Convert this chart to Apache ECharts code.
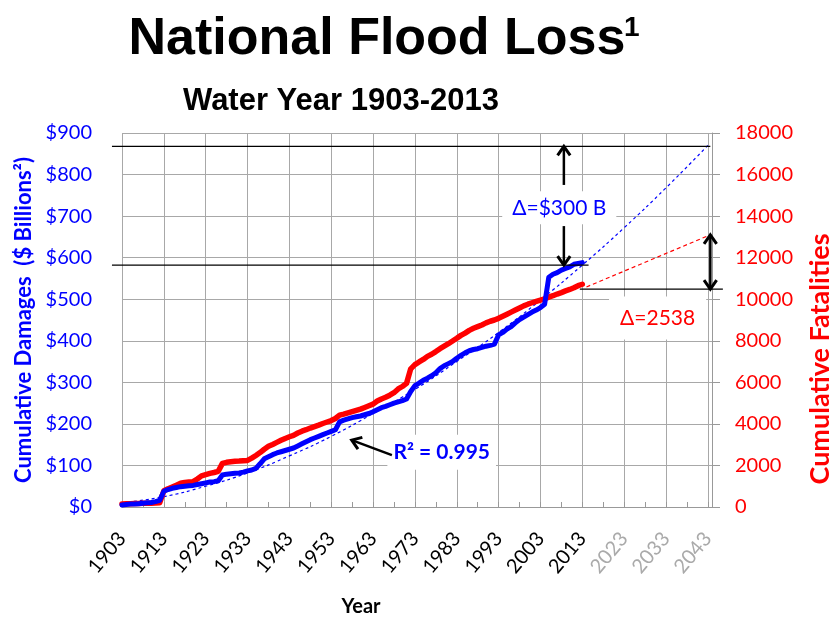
<!DOCTYPE html>
<html>
<head>
<meta charset="utf-8">
<title>National Flood Loss</title>
<script src="https://cdn.jsdelivr.net/npm/echarts@6/dist/echarts.min.js"></script>
<style>
  html, body { margin: 0; padding: 0; background: #fff; }
  #chart { width: 830px; height: 620px; }
</style>
</head>
<body>
<div id="chart"></div>
<script>
// x axis runs in "years after 1903" so the ticks can start at 0
const startYear = 1903;
const xTickLabels = ['1903', '1913', '1923', '1933', '1943', '1953', '1963', '1973',
  '1983', '1993', '2003', '2013', '2023', '2033', '2043'];

const years = [
  1903, 1904, 1905, 1906, 1907, 1908, 1909, 1910, 1911, 1912,
  1913, 1914, 1915, 1916, 1917, 1918, 1919, 1920, 1921, 1922,
  1923, 1924, 1925, 1926, 1927, 1928, 1929, 1930, 1931, 1932,
  1933, 1934, 1935, 1936, 1937, 1938, 1939, 1940, 1941, 1942,
  1943, 1944, 1945, 1946, 1947, 1948, 1949, 1950, 1951, 1952,
  1953, 1954, 1955, 1956, 1957, 1958, 1959, 1960, 1961, 1962,
  1963, 1964, 1965, 1966, 1967, 1968, 1969, 1970, 1971, 1972,
  1973, 1974, 1975, 1976, 1977, 1978, 1979, 1980, 1981, 1982,
  1983, 1984, 1985, 1986, 1987, 1988, 1989, 1990, 1991, 1992,
  1993, 1994, 1995, 1996, 1997, 1998, 1999, 2000, 2001, 2002,
  2003, 2004, 2005, 2006, 2007, 2008, 2009, 2010, 2011, 2012,
  2013
];

// cumulative damages, $ billions
const damages = [
  5, 6, 7, 7, 8, 9, 10, 11, 13, 16,
  38, 42, 45, 47, 49, 50, 51, 52, 54, 56,
  58, 60, 61, 63, 77, 79, 80, 81, 82, 84,
  87, 89, 93, 104, 116, 121, 126, 130, 133, 136,
  139, 142, 147, 152, 157, 162, 166, 170, 174, 178,
  182, 186, 205, 209, 212, 215, 217, 219, 222, 225,
  229, 234, 239, 242, 246, 250, 253, 256, 260, 278,
  292, 298, 305, 310, 316, 323, 333, 340, 345, 350,
  358, 365, 371, 376, 379, 381, 384, 387, 389, 392,
  414, 420, 428, 434, 443, 451, 457, 463, 469, 474,
  480, 488, 553, 560, 564, 570, 574, 578, 584, 586,
  588
];

// cumulative fatalities
const fatalities = [
  150, 155, 160, 165, 170, 175, 180, 185, 190, 200,
  780, 880, 960, 1050, 1140, 1180, 1200, 1220, 1350, 1500,
  1560, 1620, 1660, 1720, 2100, 2150, 2180, 2200, 2210, 2230,
  2240, 2350, 2480, 2620, 2780, 2920, 3010, 3110, 3210, 3300,
  3380, 3450, 3560, 3650, 3720, 3800, 3870, 3940, 4020, 4090,
  4160, 4260, 4420, 4470, 4530, 4590, 4650, 4710, 4790, 4870,
  4950, 5100, 5200, 5280, 5380, 5500, 5680, 5800, 5950, 6650,
  6850, 6980, 7100, 7250, 7350, 7480, 7620, 7740, 7860, 7990,
  8120, 8260, 8370, 8500, 8600, 8680, 8760, 8860, 8940, 9000,
  9080, 9180, 9280, 9380, 9480, 9580, 9680, 9760, 9830, 9900,
  9960, 10020, 10100, 10170, 10250, 10320, 10400, 10470, 10550, 10650,
  10720
];

// fitted trend of damages, projected to 2043
const trendYears = [1903, 1913, 1923, 1933, 1943, 1953, 1963, 1973, 1983, 1993, 2003, 2013, 2023, 2033, 2043];
const trendDamages = [10, 25, 50, 82, 123, 170, 225, 283, 350, 420, 498, 582, 672, 768, 870];

// fatalities projection
const projYears = [2014, 2043.6];
const projFatalities = [10590, 13100];

// annotation levels
const damageTop = 868, damageNow = 582;
const fatalTop = 13100, fatalNow = 10490;

const BLUE = '#0000ff';
const RED = '#ff0000';
const GRID = '#a8a8a8';
const FONT = 'Lato';
const TITLE_FONT = 'Liberation Sans';

const pairs = (xs, ys) => xs.map((x, i) => [x - startYear, ys[i]]);

const chart = echarts.init(document.getElementById('chart'));

const option = {
  animation: false,
  backgroundColor: '#fff',
  title: [
    {
      text: 'National Flood Loss',
      left: 372, top: 9, textAlign: 'center',
      textStyle: { fontFamily: TITLE_FONT, fontWeight: 'bold', fontSize: 52, color: '#000' }
    },
    {
      text: '1',
      left: 619, top: 9,
      textStyle: { fontFamily: TITLE_FONT, fontWeight: 'bold', fontSize: 28, color: '#000' }
    },
    {
      text: 'Water Year 1903-2013',
      left: 336, top: 81, textAlign: 'center',
      textStyle: { fontFamily: TITLE_FONT, fontWeight: 'bold', fontSize: 31, color: '#000' }
    }
  ],
  grid: { left: 122, right: 118, top: 133, bottom: 113, outerBoundsMode: 'none', containLabel: false },
  xAxis: {
    type: 'value', min: 0, max: 141, interval: 10,
    axisLine: { show: true, lineStyle: { color: '#999' } },
    axisTick: { show: true, inside: true, length: 5, lineStyle: { color: '#999' } },
    minorTick: { show: true, splitNumber: 2, length: 5, lineStyle: { color: '#999' } },
    splitLine: { show: true, lineStyle: { color: GRID, width: 1 } },
    axisLabel: {
      rotate: 50, margin: 28, fontFamily: FONT, fontSize: 20,
      showMaxLabel: false,
      formatter: v => xTickLabels[v / 10] || '',
      color: v => (+v <= 110 ? '#000' : '#aaa')
    },
    name: 'Year', nameLocation: 'middle', nameGap: 90,
    nameTextStyle: { fontFamily: FONT, fontWeight: 'bold', fontSize: 20, color: '#000', padding: [0, 112, 0, 0] }
  },
  yAxis: [
    {
      type: 'value', min: 0, max: 900, interval: 100, position: 'left',
      axisLine: { show: false }, axisTick: { show: false },
      splitLine: { show: true, lineStyle: { color: GRID, width: 1 } },
      axisLabel: { formatter: v => '$' + v, color: BLUE, fontFamily: FONT, fontSize: 20, margin: 30 },
      name: 'Cumulative Damages  ($ Billions²)', nameLocation: 'middle', nameGap: 86,
      nameTextStyle: { color: BLUE, fontFamily: FONT, fontWeight: 'bold', fontSize: 22 }
    },
    {
      type: 'value', min: 0, max: 18000, interval: 2000, position: 'right',
      axisLine: { show: true, lineStyle: { color: '#999' } },
      axisTick: { show: true, length: 8, lineStyle: { color: '#999' } },
      splitLine: { show: false },
      axisLabel: { formatter: v => String(v), color: RED, fontFamily: FONT, fontSize: 20, margin: 23 },
      name: 'Cumulative Fatalities', nameLocation: 'middle', nameGap: 95,
      nameTextStyle: { color: RED, fontFamily: FONT, fontWeight: 'bold', fontSize: 27, padding: [0, 78, 0, 0] }
    }
  ],
  series: [
    {
      name: 'Damage trend', type: 'line', yAxisIndex: 0, smooth: true, symbol: 'none',
      data: pairs(trendYears, trendDamages),
      lineStyle: { color: BLUE, width: 1.2, type: [3, 3] }, z: 2
    },
    {
      name: 'Fatality projection', type: 'line', yAxisIndex: 1, symbol: 'none',
      data: pairs(projYears, projFatalities),
      lineStyle: { color: RED, width: 1.2, type: [4, 3] }, z: 2
    },
    {
      name: 'Cumulative Fatalities', type: 'line', yAxisIndex: 1, symbol: 'none',
      data: pairs(years, fatalities),
      lineStyle: { color: RED, width: 5.5, join: 'round', cap: 'round' }, z: 3
    },
    {
      name: 'Cumulative Damages', type: 'line', yAxisIndex: 0, symbol: 'none',
      data: pairs(years, damages),
      lineStyle: { color: BLUE, width: 5, join: 'round', cap: 'round' }, z: 4
    }
  ]
};

chart.setOption(option);

// annotations placed through the chart's own scales
function pL(yr, v) { return chart.convertToPixel({ seriesIndex: 3 }, [yr - startYear, v]); }
function pR(yr, v) { return chart.convertToPixel({ seriesIndex: 2 }, [yr - startYear, v]); }

function seg(a, b, w) {
  return { type: 'line', z: 50, shape: { x1: a[0], y1: a[1], x2: b[0], y2: b[1] },
           style: { stroke: '#000', lineWidth: w } };
}
function head(tip, from) {
  const dx = tip[0] - from[0], dy = tip[1] - from[1];
  const len = Math.hypot(dx, dy), ux = dx / len, uy = dy / len, s = 9;
  const bx = tip[0] - ux * s, by = tip[1] - uy * s;
  const nx = -uy * s * 0.7, ny = ux * s * 0.7;
  return { type: 'polyline', z: 50, shape: { points: [[bx + nx, by + ny], tip, [bx - nx, by - ny]] },
           style: { stroke: '#000', lineWidth: 3, fill: null } };
}
function arrow(a, b, w) { return [seg(a, b, w), head(b, a)]; }
function label(pt, text, color, weight, pad) {
  return { type: 'text', z: 40, x: pt[0], y: pt[1],
           style: { text: text, fill: color, fontFamily: FONT, fontSize: 21, fontWeight: weight,
                    align: 'center', verticalAlign: 'middle', backgroundColor: '#fff', padding: pad } };
}

const g = [];
g.push(seg(pL(1900.6, damageTop), pL(2043.6, damageTop), 1.3));
g.push(seg(pL(1900.6, damageNow), pL(2014.5, damageNow), 1.3));
g.push(seg(pR(2012.4, fatalNow), pR(2046.6, fatalNow), 1.3));

g.push(label(pL(2007.5, 720), 'Δ=$300 B', BLUE, 'normal', [6, 10]));
g.push(...arrow(pL(2008.6, 775), pL(2008.6, damageTop), 2.5));
g.push(...arrow(pL(2008.6, 676), pL(2008.6, damageNow), 2.5));

const dTop = pR(2043.6, fatalTop), dBot = pR(2043.6, fatalNow);
g.push(seg(dTop, dBot, 2.5), head(dTop, dBot), head(dBot, dTop));
g.push(label(pR(2031, 9100), 'Δ=2538', RED, 'normal', [12, 11, 10, 11]));

g.push(label(pL(1979.4, 132), 'R² = 0.995', BLUE, 'bold', [7, 6]));
g.push(...arrow(pL(1967.5, 125), pL(1957.9, 161), 2.5));

chart.setOption({ graphic: g });
</script>
</body>
</html>
